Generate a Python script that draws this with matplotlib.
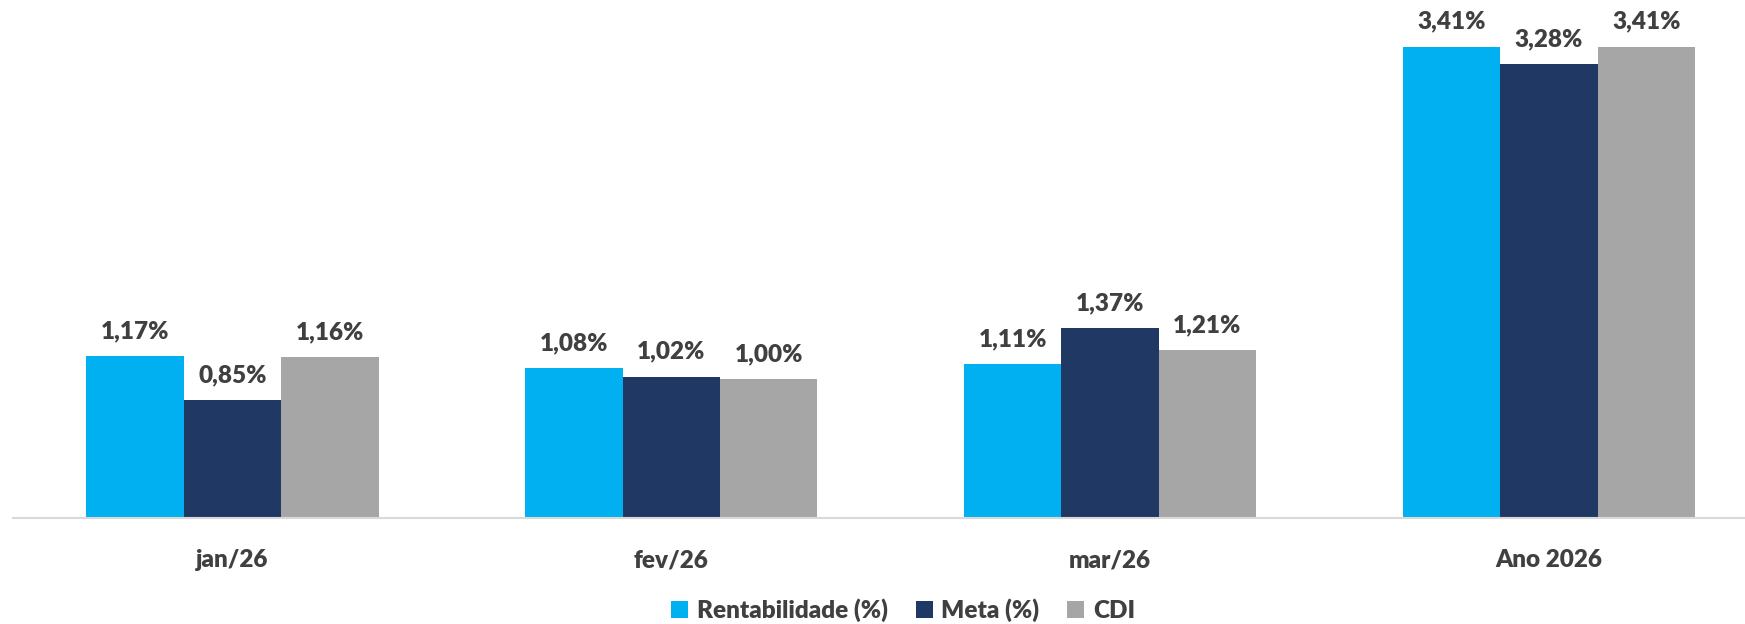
import numpy as np
import matplotlib.pyplot as plt

plt.rcParams['font.family'] = ['Lato', 'DejaVu Sans']

categories = ['jan/26', 'fev/26', 'mar/26', 'Ano 2026']
rentabilidade = [1.17, 1.08, 1.11, 3.41]
meta = [0.85, 1.02, 1.37, 3.28]
cdi = [1.16, 1.00, 1.21, 3.41]

series = [
    ('Rentabilidade (%)', rentabilidade, '#00B0F0'),
    ('Meta (%)', meta, '#203864'),
    ('CDI', cdi, '#A6A6A6'),
]

txt_color = '#404040'
wt = 'heavy'

fig = plt.figure(figsize=(17.45, 6.24), dpi=100)
ax = fig.add_axes([13 / 1745, 1 - 517.5 / 624, 1 - 13 / 1745, 517.5 / 624])

x = np.arange(len(categories))
w = 0.222
for i, (name, vals, col) in enumerate(series):
    pos = x + (i - 1) * w
    ax.bar(pos, vals, width=w, color=col, label=name, zorder=2)
    for px, v in zip(pos, vals):
        ax.annotate(('%.2f%%' % v).replace('.', ','), (px, v),
                    xytext=(0, 13), textcoords='offset points',
                    ha='center', va='baseline', fontsize=17.5,
                    fontweight=wt, color=txt_color)

ax.set_xlim(-0.5, 3.447)
ax.set_ylim(0, 3.747)
ax.set_xticks(x)
ax.set_xticklabels(categories, fontsize=17.5, fontweight=wt, color=txt_color)
ax.tick_params(axis='x', length=0, pad=23)
ax.set_yticks([])
for s in ['top', 'right', 'left']:
    ax.spines[s].set_visible(False)
ax.spines['bottom'].set_color('#D9D9D9')
ax.spines['bottom'].set_linewidth(1.5)

leg = fig.legend(loc='center', bbox_to_anchor=(0.5175, 0.022), ncol=3,
                 frameon=False, handlelength=0.7, handleheight=0.7,
                 handletextpad=0.35, columnspacing=1.15,
                 prop={'size': 17.5, 'weight': wt})
for t in leg.get_texts():
    t.set_color(txt_color)

fig.savefig('out.png', dpi=100)
